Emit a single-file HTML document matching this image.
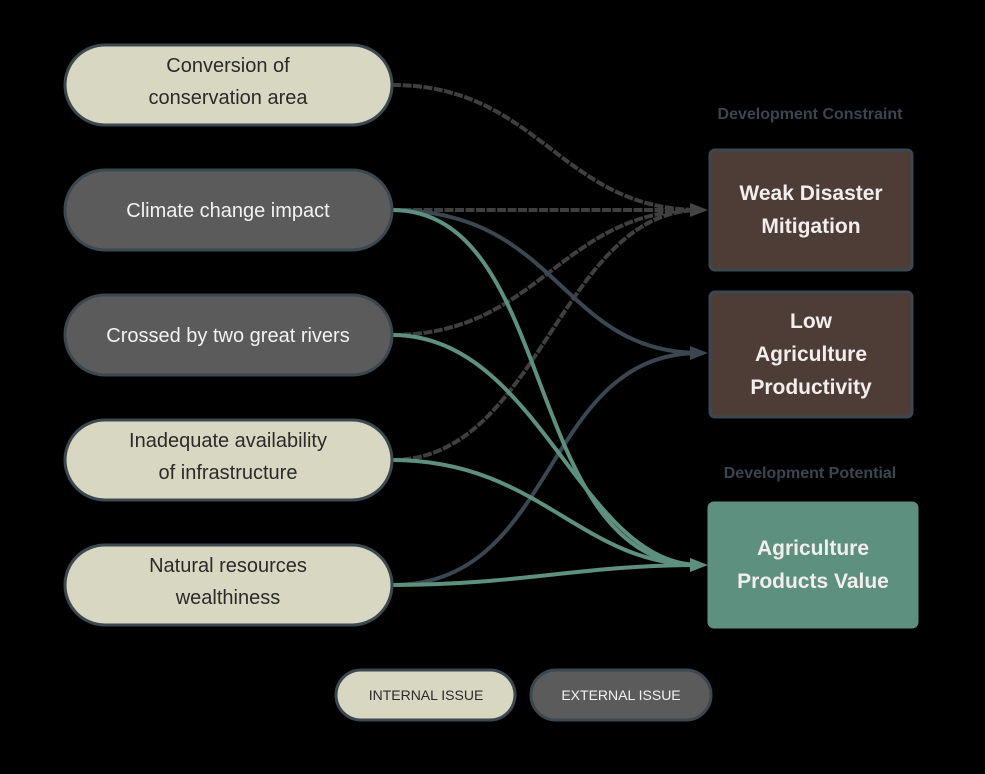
<!DOCTYPE html>
<html><head><meta charset="utf-8"><style>
html,body{margin:0;padding:0;background:#000;}
svg{display:block;font-family:"Liberation Sans",sans-serif;}
</style></head><body>
<svg width="985" height="774" viewBox="0 0 985 774" xmlns="http://www.w3.org/2000/svg">
<defs>
<marker id="ag" markerWidth="8" markerHeight="8" refX="6" refY="4" orient="auto" markerUnits="userSpaceOnUse"><path d="M0,0 L8,4 L0,8 z" fill="#444"/></marker>
</defs>
<rect width="985" height="774" fill="#000"/>
<g fill="none" stroke-width="4">
<!-- to Weak -->
<g stroke="#3f3f3f" stroke-dasharray="9 1.5">
<path d="M392,85 C540,85 560,210 700,210"/>
<path d="M392,210 C540,210 560,210 700,210"/>
<path d="M392,335 C540,335 560,210 700,210"/>
<path d="M392,460 C540,460 560,210 700,210"/>
</g>
<!-- to Low -->
<g stroke="#3a4650">
<path d="M392,210 C560,210 560,353 700,353"/>
<path d="M392,585 C560,585 540,353 700,353"/>
</g>
<!-- to Agri -->
<g stroke="#5e907f">
<path d="M392,210 C560,210 520,565 700,565"/>
<path d="M392,335 C540,335 580,565 700,565"/>
<path d="M392,460 C540,460 580,565 700,565"/>
<path d="M392,585 C520,585 580,565 700,565"/>
</g>
</g>
<path d="M690,203 L708,210 L690,217 z" fill="#444"/>
<path d="M690,346 L708,353 L690,360 z" fill="#3a4650"/>
<path d="M690,558 L708,565 L690,572 z" fill="#5e907f"/>

<g stroke="#3b4850" stroke-width="3">
<rect x="65" y="45" width="327" height="80" rx="40" fill="#d8d8c2"/>
<rect x="65" y="170" width="327" height="80" rx="40" fill="#5b5b5b"/>
<rect x="65" y="295" width="327" height="80" rx="40" fill="#5b5b5b"/>
<rect x="65" y="420" width="327" height="80" rx="40" fill="#d8d8c2"/>
<rect x="65" y="545" width="327" height="80" rx="40" fill="#d8d8c2"/>
<rect x="710" y="150" width="202" height="120" rx="5" fill="#4e3d37"/>
<rect x="710" y="292" width="202" height="125" rx="5" fill="#4e3d37"/>
<rect x="709" y="503" width="208" height="124" rx="5" fill="#5e907f" stroke="#5e907f"/>
<rect x="336" y="670" width="179" height="50" rx="25" fill="#d8d8c2"/>
<rect x="531" y="670" width="180" height="50" rx="25" fill="#5b5b5b"/>
</g>

<g font-size="20" text-anchor="middle">
<text x="228" y="72" fill="#2a2a2a">Conversion of</text>
<text x="228" y="104" fill="#2a2a2a">conservation area</text>
<text x="228" y="217" fill="#f2f2f2">Climate change impact</text>
<text x="228" y="342" fill="#f2f2f2">Crossed by two great rivers</text>
<text x="228" y="447" fill="#2a2a2a">Inadequate availability</text>
<text x="228" y="479" fill="#2a2a2a">of infrastructure</text>
<text x="228" y="572" fill="#2a2a2a">Natural resources</text>
<text x="228" y="604" fill="#2a2a2a">wealthiness</text>
</g>
<g font-size="21" font-weight="bold" text-anchor="middle" fill="#f3eeee">
<text x="811" y="200">Weak Disaster</text>
<text x="811" y="233">Mitigation</text>
<text x="811" y="328">Low</text>
<text x="811" y="361">Agriculture</text>
<text x="811" y="394">Productivity</text>
<text x="813" y="555">Agriculture</text>
<text x="813" y="588">Products Value</text>
</g>
<g font-size="16" font-weight="bold" text-anchor="middle" fill="#3b4550">
<text x="810" y="119">Development Constraint</text>
<text x="810" y="478">Development Potential</text>
</g>
<g font-size="14" text-anchor="middle">
<text x="426" y="700" fill="#2a2a2a">INTERNAL ISSUE</text>
<text x="621" y="700" fill="#f2f2f2">EXTERNAL ISSUE</text>
</g>
</svg>
</body></html>
